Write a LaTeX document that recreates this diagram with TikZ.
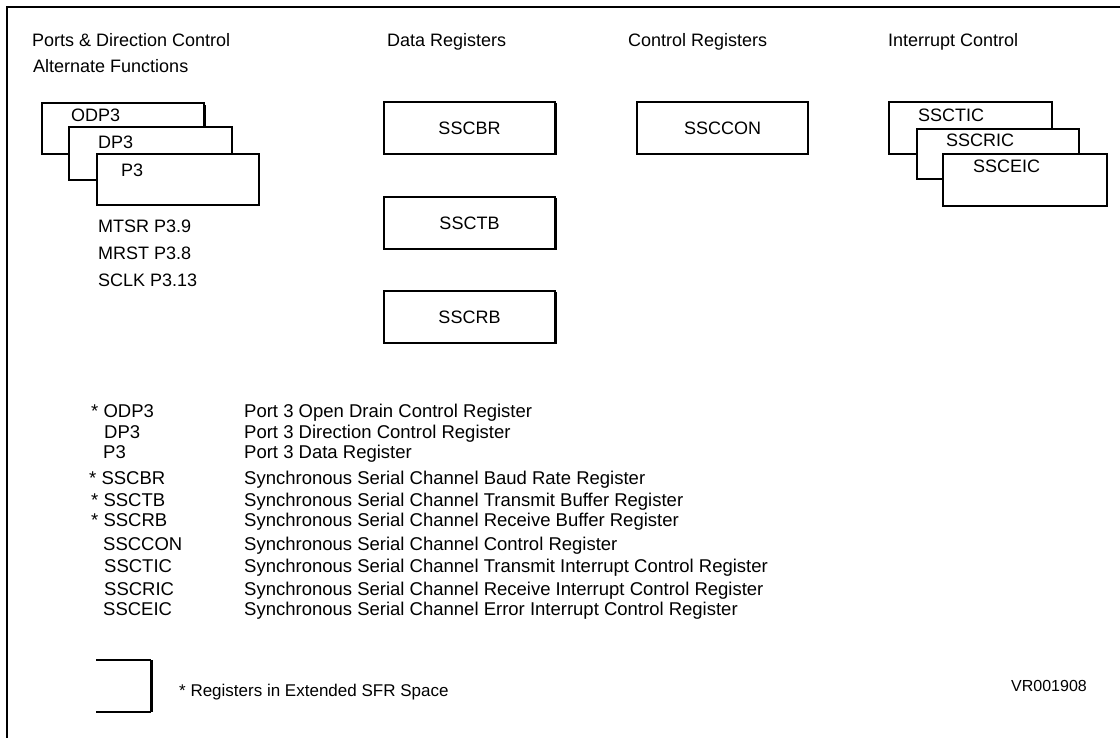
\documentclass[tikz,border=0pt]{standalone}
\usepackage{fontspec}
\setmainfont{Liberation Sans}
\begin{document}
\begin{tikzpicture}[x=1pt,y=-1pt,
  txt/.style={inner sep=0pt, anchor=base west, font=\fontsize{18}{20}\selectfont},
  legtxt/.style={inner sep=0pt, anchor=base west, font=\fontsize{18.5}{20}\selectfont},
  regbox/.style={draw, fill=white, line width=1.4pt, inner sep=0pt,
                 font=\fontsize{18}{20}\selectfont},
  sfredge/.style={line width=3pt},
  frame/.style={line width=2pt}]
\useasboundingbox (0,0) rectangle (1120,738);

% outer frame (top and left sides)
\coordinate (fbl) at (7,738);
\coordinate (ftl) at (7,7);
\coordinate (ftr) at (1120,7);
\draw[frame] (fbl) -- (ftl) -- (ftr);

% column headings
\node[txt] (hports) at (32,47) {Ports \& Direction Control};
\node[txt] (halt)   at (33,73) {Alternate Functions};
\node[txt] (hdata)  at (387,47) {Data Registers};
\node[txt] (hctrl)  at (628,47) {Control Registers};
\node[txt] (hint)   at (888,47) {Interrupt Control};

% port registers, stacked
\node[regbox, minimum width=162, minimum height=51] (odp3) at (123,128.5) {};
\draw[sfredge] ([yshift=-3]odp3.north east) -- (odp3.south east);
\node[regbox, minimum width=163, minimum height=53] (dp3) at (150.5,153.5) {};
\node[regbox, minimum width=162, minimum height=51] (p3) at (178,179.5) {};
\node[txt] (todp3) at (71,122) {ODP3};
\node[txt] (tdp3)  at (98,149) {DP3};
\node[txt] (tp3)   at (121,177) {P3};

% alternate pin functions
\node[txt] (amtsr) at (98,233) {MTSR P3.9};
\node[txt] (amrst) at (98,260) {MRST P3.8};
\node[txt] (asclk) at (98,287) {SCLK P3.13};

% data registers
\node[regbox, minimum width=171, minimum height=52] (sscbr) at (469.5,128) {SSCBR};
\node[regbox, minimum width=171, minimum height=52] (ssctb) at (469.5,223) {SSCTB};
\node[regbox, minimum width=171, minimum height=52] (sscrb) at (469.5,317) {SSCRB};
\foreach \b in {sscbr,ssctb,sscrb}
  \draw[sfredge] ([yshift=-2]\b.north east) -- (\b.south east);

% control register
\node[regbox, minimum width=171, minimum height=52] (ssccon) at (722.5,128) {SSCCON};

% interrupt control registers, stacked
\node[regbox, minimum width=163, minimum height=52] (ssctic) at (970.5,128) {};
\node[regbox, minimum width=162, minimum height=50] (sscric) at (998,154) {};
\node[regbox, minimum width=164, minimum height=52] (ssceic) at (1025,180) {};
\node[txt] (tssctic) at (918,122) {SSCTIC};
\node[txt] (tsscric) at (946,147) {SSCRIC};
\node[txt] (tssceic) at (973,173) {SSCEIC};

% register list
\foreach \x/\y/\n/\d [count=\i] in {
  91/417/{* ODP3}/{Port 3 Open Drain Control Register},
  104/438/{DP3}/{Port 3 Direction Control Register},
  103/458/{P3}/{Port 3 Data Register},
  89/484/{* SSCBR}/{Synchronous Serial Channel Baud Rate Register},
  91/506/{* SSCTB}/{Synchronous Serial Channel Transmit Buffer Register},
  91/526/{* SSCRB}/{Synchronous Serial Channel Receive Buffer Register},
  103/550/{SSCCON}/{Synchronous Serial Channel Control Register},
  104/572/{SSCTIC}/{Synchronous Serial Channel Transmit Interrupt Control Register},
  104/595/{SSCRIC}/{Synchronous Serial Channel Receive Interrupt Control Register},
  103/615/{SSCEIC}/{Synchronous Serial Channel Error Interrupt Control Register}}
{
  \node[legtxt] (lname\i) at (\x,\y) {\n};
  \node[legtxt] (ldesc\i) at (244,\y) {\d};
}

% key symbol for extended SFR registers
\coordinate (ka) at (96,660);
\coordinate (kb) at (151,660);
\coordinate (kc) at (151,712);
\coordinate (kd) at (96,712);
\draw[line width=1.4pt] (ka) -- (kb);
\draw[line width=1.4pt] (kd) -- (kc);
\draw[sfredge] (kb) -- (kc);
\node[inner sep=0pt, anchor=base west, font=\fontsize{17}{19}\selectfont] (keytxt) at (179,696) {* Registers in Extended SFR Space};

\node[inner sep=0pt, anchor=base west, font=\fontsize{16}{18}\selectfont] (figid) at (1011,691) {VR001908};
\end{tikzpicture}
\end{document}
